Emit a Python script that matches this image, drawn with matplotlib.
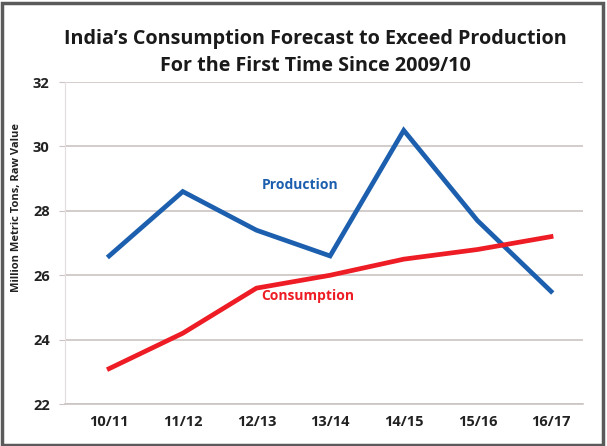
import matplotlib
matplotlib.use("Agg")
import matplotlib.pyplot as plt
from matplotlib.patches import Rectangle

categories = ["10/11", "11/12", "12/13", "13/14", "14/15", "15/16", "16/17"]
production = [26.6, 28.6, 27.4, 26.6, 30.5, 27.7, 25.5]
consumption = [23.1, 24.2, 25.6, 26.0, 26.5, 26.8, 27.2]
y_ticks = [22, 24, 26, 28, 30, 32]

title = "India\u2019s Consumption Forecast to Exceed Production\nFor the First Time Since 2009/10"
font = "Open Sans"
grid_c = "#cbc4c2"

fig = plt.figure(figsize=(6.07, 4.46), dpi=100)
fig.patch.set_facecolor("white")
ax = fig.add_axes([0.107, 0.094, 0.853, 0.722])

x = list(range(len(categories)))
ax.plot(x, production, color="#1c5fae", lw=3.4, solid_joinstyle="miter")
ax.plot(x, consumption, color="#ee1c24", lw=3.4, solid_joinstyle="miter")

ax.set_xlim(-0.6, 6.43)
ax.set_ylim(22, 32)
ax.set_yticks(y_ticks)
ax.set_xticks(x)
ax.set_xticklabels(categories)
ax.tick_params(axis="x", length=0, pad=8)
ax.tick_params(axis="y", length=4, color=grid_c, pad=7)
for lab in ax.get_xticklabels() + ax.get_yticklabels():
    lab.set_fontfamily(font)
    lab.set_fontweight("bold")
    lab.set_fontsize(10.5)
    lab.set_color("#222222")

ax.grid(axis="y", color=grid_c, lw=1.2)
ax.set_axisbelow(True)
for s in ["top", "right"]:
    ax.spines[s].set_visible(False)
ax.spines["left"].set_color("#e2dcdc")
ax.spines["left"].set_linewidth(0.8)
ax.spines["bottom"].set_color(grid_c)
ax.spines["bottom"].set_linewidth(1.2)

ax.set_ylabel("Million Metric Tons, Raw Value", fontfamily=font, fontweight="bold",
              fontsize=8, color="#222222")
ax.yaxis.set_label_coords(-0.083, 0.612)

ax.text(2.07, 28.8, "Production", color="#1c5fae", fontfamily=font,
        fontweight="bold", fontsize=10, ha="left", va="center")
ax.text(2.07, 25.35, "Consumption", color="#ee1c24", fontfamily=font,
        fontweight="bold", fontsize=10, ha="left", va="center")

fig.text(0.52, 0.883, title, ha="center", va="center", fontfamily=font,
         fontweight="bold", fontsize=14.2, color="#1a1a1a", linespacing=1.45)

fig.patches.append(Rectangle((0.003, 0.003), 0.991, 0.991, transform=fig.transFigure,
                             fill=False, edgecolor="#5a5a5a", lw=2.5))

fig.savefig("out.png", dpi=100)
